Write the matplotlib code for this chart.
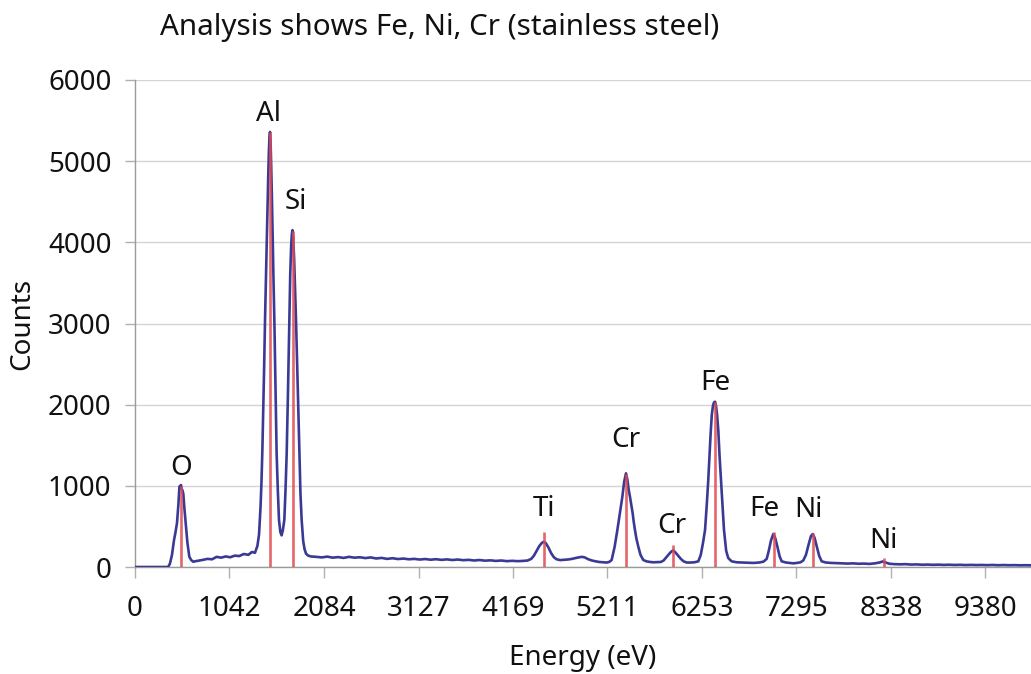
import matplotlib
matplotlib.use("Agg")
import matplotlib.pyplot as plt

# ---------------- data ----------------
title = "Analysis shows Fe, Ni, Cr (stainless steel)"
x_label = "Energy (eV)"
y_label = "Counts"
x_ticks = [0, 1042, 2084, 3127, 4169, 5211, 6253, 7295, 8338, 9380]
x_tick_labels = ["0", "1042", "2084", "3127", "4169", "5211", "6253", "7295", "8338", "9380"]
y_ticks = [0, 1000, 2000, 3000, 4000, 5000, 6000]

energy_ev = [
    0, 100, 200, 300, 365, 385, 408, 430, 445, 463, 478, 490, 500, 507, 515, 522, 533,
    545, 562, 578, 599, 620, 643, 670, 700, 750, 800, 850, 900, 950, 1000, 1050, 1100,
    1150, 1200, 1250, 1290, 1323, 1350, 1368, 1385, 1395, 1405, 1415, 1425, 1434, 1447,
    1459, 1468, 1476, 1483, 1489, 1495, 1502, 1510, 1520, 1530, 1537, 1550, 1562, 1575,
    1588, 1603, 1617, 1630, 1647, 1660, 1673, 1688, 1702, 1712, 1722, 1730, 1737, 1745,
    1755, 1765, 1776, 1795, 1812, 1825, 1838, 1855, 1870, 1886, 1910, 1940, 2000, 2060,
    2120, 2180, 2240, 2300, 2360, 2420, 2480, 2540, 2600, 2660, 2720, 2780, 2840, 2900,
    2960, 3020, 3080, 3140, 3200, 3260, 3320, 3380, 3440, 3500, 3560, 3620, 3680, 3740,
    3800, 3860, 3920, 3980, 4040, 4100, 4160, 4220, 4280, 4330, 4370, 4400, 4430, 4460,
    4490, 4510, 4530, 4560, 4590, 4620, 4650, 4690, 4730, 4770, 4810, 4850, 4890, 4930,
    4960, 5000, 5040, 5080, 5120, 5160, 5200, 5230, 5257, 5290, 5320, 5350, 5375, 5395,
    5415, 5430, 5445, 5459, 5475, 5489, 5500, 5514, 5530, 5551, 5575, 5606, 5640, 5680,
    5720, 5760, 5800, 5830, 5860, 5890, 5915, 5937, 5960, 5990, 6020, 6050, 6085, 6130,
    6170, 6213, 6240, 6265, 6287, 6305, 6322, 6335, 6349, 6362, 6375, 6387, 6397, 6408,
    6420, 6433, 6448, 6463, 6480, 6496, 6520, 6543, 6580, 6636, 6700, 6760, 6820, 6880,
    6930, 6967, 6990, 7015, 7040, 7060, 7085, 7110, 7132, 7180, 7230, 7261, 7300, 7340,
    7370, 7400, 7430, 7455, 7474, 7495, 7520, 7545, 7573, 7620, 7680, 7740, 7800, 7860,
    7920, 7980, 8040, 8100, 8160, 8210, 8245, 8280, 8320, 8380, 8440, 8500, 8560, 8620,
    8680, 8740, 8800, 8860, 8920, 8980, 9040, 9100, 9160, 9220, 9280, 9340, 9400, 9460,
    9520, 9580, 9640, 9700, 9760, 9820, 9900, 10000,
]
counts = [
    0, 0, 0, 0, 0, 40, 150, 330, 418, 540, 760, 990, 1000, 1010, 960, 950, 900,
    720, 496, 300, 127, 85, 65, 72, 78, 88, 100, 95, 125, 115, 130, 120, 140,
    135, 160, 150, 185, 175, 260, 400, 750, 1050, 1450, 1950, 2500, 3040, 3700,
    4270, 4750, 5100, 5300, 5360, 5250, 4950, 4550, 3950, 3400, 3040, 2200, 1400, 950,
    580, 430, 390, 450, 580, 950, 1400, 2200, 3040, 3600, 3950, 4100, 4150, 4050,
    3800, 3450, 3040, 2200, 1400, 900, 580, 320, 220, 165, 140, 130, 125, 118,
    128, 115, 122, 112, 125, 115, 120, 110, 118, 105, 112, 100, 108, 98,
    104, 95, 100, 92, 98, 90, 96, 88, 94, 86, 92, 84, 88, 80,
    86, 78, 82, 75, 80, 72, 76, 72, 75, 80, 100, 140, 200, 260,
    300, 310, 295, 240, 170, 120, 95, 85, 88, 92, 98, 108, 118, 125,
    118, 95, 80, 70, 62, 58, 55, 62, 86, 250, 456, 680, 866, 1050,
    1154, 1080, 950, 866, 760, 660, 560, 456, 350, 250, 150, 86, 70, 62,
    58, 60, 62, 80, 120, 160, 190, 205, 180, 140, 100, 70, 55, 55,
    58, 70, 150, 300, 456, 750, 1060, 1350, 1650, 1880, 1990, 2030, 2036, 1990,
    1870, 1687, 1350, 1071, 750, 456, 200, 110, 70, 58, 55, 52, 50, 55,
    65, 100, 200, 330, 406, 360, 250, 130, 70, 55, 48, 45, 50, 58,
    80, 150, 280, 380, 406, 360, 250, 140, 70, 55, 50, 48, 45, 42,
    45, 40, 42, 38, 45, 55, 68, 55, 40, 35, 33, 35, 30, 32,
    28, 30, 27, 29, 26, 28, 25, 27, 24, 26, 24, 25, 23, 25,
    22, 24, 22, 23, 21, 22, 20, 20,
]

# element marker lines (energy, height) and their labels
line_labels = ["O", "Al", "Si", "Ti", "Cr", "Cr", "Fe", "Fe", "Ni", "Ni"]
line_energy = [510, 1489, 1740, 4510, 5415, 5935, 6400, 7050, 7475, 8260]
line_height = [1000, 5361, 4140, 435, 1150, 270, 2030, 435, 415, 110]

# label placement offsets (points) relative to top of each marker line
label_dx = [0, -1, 2, 0, 0, -1, 0, -7, -3, 0]
label_dy = [13, 13, 21, 16, 24, 14, 14, 16, 17, 12]

# ---------------- figure ----------------
W, H = 1031, 674
fig = plt.figure(figsize=(W / 100, H / 100), dpi=100)
plt.rcParams["font.family"] = ["Noto Sans", "DejaVu Sans"]
FS = 20
TXT = "#111111"

ax = fig.add_axes([135 / W, 107 / H, (W - 135) / W, (567 - 80) / H])
ax.set_xlim(0, 9882)
ax.set_ylim(0, 6000)

ax.grid(axis="y", color="#d4d4d4", linewidth=1.0)
ax.set_axisbelow(True)
for s in ["top", "right"]:
    ax.spines[s].set_visible(False)
for s in ["left", "bottom"]:
    ax.spines[s].set_color("#9a9a9a")
    ax.spines[s].set_linewidth(1.0)

ax.set_xticks(x_ticks)
ax.set_xticklabels(x_tick_labels)
ax.set_yticks(y_ticks)
ax.tick_params(axis="both", colors="#b0b0b0", labelcolor=TXT, labelsize=FS,
               width=1.0)
ax.tick_params(axis="x", length=8, pad=12)
ax.tick_params(axis="y", length=7, pad=10)

ax.plot(energy_ev, counts, color="#3a3a96", linewidth=1.9, zorder=3,
        solid_joinstyle="round")
ax.vlines(line_energy, 0, line_height, color="#e04a50", linewidth=1.9,
          alpha=0.85, zorder=4)

for lab, e, h, dx, dy in zip(line_labels, line_energy, line_height, label_dx, label_dy):
    ax.annotate(lab, (e, h), xytext=(dx, dy), textcoords="offset points",
                ha="center", va="center", fontsize=FS, color=TXT)

ax.set_xlabel(x_label, fontsize=FS, color=TXT, labelpad=15)
ax.set_ylabel(y_label, fontsize=FS, color=TXT, labelpad=8)

fig.text(160 / W, 1 - 28 / H, title, ha="left", va="center", fontsize=21.3,
         color=TXT)

fig.savefig("out.png", dpi=100)
